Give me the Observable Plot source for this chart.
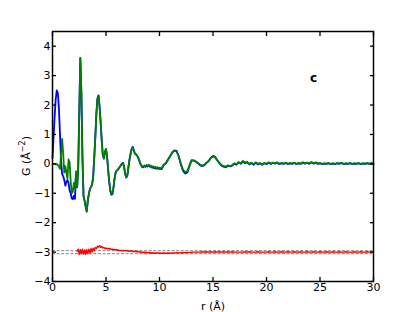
<!DOCTYPE html>
<html><head><meta charset="utf-8">
<script src="https://cdn.jsdelivr.net/npm/d3@7"></script>
<script src="https://cdn.jsdelivr.net/npm/@observablehq/plot@0.6"></script>
<style>body{margin:0;background:#fff;}</style>
</head><body><div id="chart"></div>
<script>
// r grid: fine part every 0.1 Å (from the given start to 10.0), coarse part every 0.2 Å (10.2 … 30.0)
const fineStep = 0.1, coarseStart = 10.2, coarseStep = 0.2;

// Observed G(r) (blue), r = 0.0 … 10.0
const obsFine = [
  0.2, 0.9, 1.6, 2.2, 2.5, 2.4, 1.9, 1.0, 0.1, -0.35,
  -0.42, -0.55, -0.74, -0.62, -0.55, -0.65, -0.9, -1.0, -1.18, -1.2,
  -1.08, -1.19, -0.35, -0.8, -0.2, 1.7, 3.6, 2.4, 0.2, -1.1,
  -1.25, -1.45, -1.62, -1.25, -1.02, -0.85, -0.78, -0.7, -0.45, 0.2,
  0.9, 1.7, 2.22, 2.33, 1.95, 1.4, 0.8, 0.3, 0.18, 0.4,
  0.5, 0.25, -0.2, -0.6, -0.92, -1.05, -1.04, -0.8, -0.5, -0.3,
  -0.23, -0.2, -0.15, -0.1, -0.05, 0.02, 0.03, -0.12, -0.35, -0.47,
  -0.38, -0.1, 0.15, 0.35, 0.5, 0.58, 0.47, 0.35, 0.32, 0.28,
  0.22, 0.12, 0.02, -0.06, -0.12, -0.11, -0.07, -0.1, -0.06, -0.09,
  -0.05, -0.1, -0.09, -0.13, -0.11, -0.15, -0.13, -0.17, -0.14, -0.17,
  -0.16
];
// Observed G(r) (blue), r = 10.2 … 30.0
const obsCoarse = [
  -0.18, -0.04, 0.02, 0.15, 0.27, 0.4, 0.46, 0.44, 0.25, -0.02,
  -0.24, -0.33, -0.29, -0.07, 0.12, 0.11, 0.07, 0.02, -0.05, -0.08,
  -0.04, 0.03, 0.1, 0.21, 0.27, 0.23, 0.12, 0.02, -0.06, -0.1,
  -0.11, -0.07, -0.09, -0.06, 0.0, -0.03, 0.05, 0.0, 0.08, 0.02,
  0.05, -0.02, 0.03, -0.03, 0.04, -0.02, 0.02, -0.03, 0.02, -0.01,
  0.04, 0.0, 0.03, 0.01, 0.04, -0.01, 0.02, 0.0, 0.03, -0.01,
  0.02, 0.0, 0.03, -0.01, 0.02, 0.0, 0.04, 0.01, 0.03, 0.0,
  0.05, 0.01, 0.04, 0.0, 0.02, -0.01, 0.01, 0.0, 0.02, -0.01,
  0.01, -0.01, 0.02, 0.0, 0.03, -0.01, 0.01, 0.0, 0.02, -0.01,
  0.01, 0.0, 0.02, -0.01, 0.01, 0.0, 0.02, 0.0, 0.01, 0.0
];

// Calculated G(r) (green), r = 0.0 … 10.0
const calcFine = [
  0.0, 0.0, 0.0, -0.02, 0.0, -0.04, -0.08, -0.17, 0.35, 0.85,
  0.35, -0.3, -0.08, -0.3, -0.5, 0.15, 0.05, -0.6, -1.0, -0.95,
  -0.65, -0.85, -0.25, -0.8, -0.2, 1.7, 3.6, 2.4, 0.2, -1.1,
  -1.25, -1.45, -1.62, -1.25, -1.02, -0.85, -0.78, -0.7, -0.45, 0.2,
  0.9, 1.7, 2.2, 2.3, 1.95, 1.4, 0.8, 0.3, 0.18, 0.4,
  0.5, 0.25, -0.2, -0.6, -0.9, -1.02, -1.0, -0.8, -0.5, -0.3,
  -0.23, -0.2, -0.15, -0.1, -0.05, 0.0, 0.02, -0.12, -0.35, -0.45,
  -0.38, -0.1, 0.15, 0.35, 0.5, 0.55, 0.45, 0.35, 0.32, 0.28,
  0.22, 0.12, 0.02, -0.05, -0.1, -0.09, -0.05, -0.08, -0.04, -0.07,
  -0.03, -0.08, -0.06, -0.1, -0.08, -0.12, -0.1, -0.14, -0.11, -0.14,
  -0.13
];
// Calculated G(r) (green), r = 10.2 … 30.0
const calcCoarse = [
  -0.15, -0.02, 0.03, 0.15, 0.26, 0.38, 0.44, 0.42, 0.25, 0.0,
  -0.2, -0.28, -0.25, -0.05, 0.13, 0.12, 0.08, 0.03, -0.03, -0.06,
  -0.02, 0.04, 0.1, 0.2, 0.25, 0.22, 0.12, 0.03, -0.04, -0.08,
  -0.09, -0.05, -0.08, -0.04, 0.02, -0.01, 0.06, 0.02, 0.1, 0.04,
  0.07, 0.0, 0.04, -0.01, 0.05, 0.0, 0.03, -0.02, 0.03, 0.0,
  0.05, 0.01, 0.04, 0.02, 0.05, 0.0, 0.03, 0.01, 0.04, 0.0,
  0.03, 0.01, 0.04, 0.0, 0.03, 0.01, 0.05, 0.02, 0.04, 0.01,
  0.06, 0.02, 0.05, 0.01, 0.03, 0.0, 0.02, 0.01, 0.03, 0.0,
  0.02, 0.0, 0.03, 0.01, 0.04, 0.0, 0.02, 0.01, 0.03, 0.0,
  0.02, 0.01, 0.03, 0.0, 0.02, 0.01, 0.03, 0.01, 0.02, 0.01
];

// Difference curve (red, offset by −3), r = 2.3 … 10.0
const diffStart = 2.3;
const diffFine = [
  -2.97, -2.9, -3.08, -2.92, -3.06, -2.9, -3.07,
  -2.93, -3.08, -2.92, -3.05, -2.9, -3.03, -2.88, -3.0, -2.87, -2.95,
  -2.84, -2.88, -2.8, -2.83, -2.78, -2.84, -2.81, -2.86, -2.84, -2.88,
  -2.86, -2.89, -2.87, -2.9, -2.88, -2.91, -2.9, -2.92, -2.91, -2.93,
  -2.92, -2.94, -2.93, -2.95, -2.94, -2.95, -2.94, -2.96, -2.95, -2.96,
  -2.95, -2.97, -2.96, -2.97, -2.96, -2.98, -2.97, -2.98, -2.97, -2.99,
  -2.98, -3.0, -2.99, -3.01, -3.0, -3.02, -3.0, -3.02, -3.01, -3.03,
  -3.01, -3.03, -3.02, -3.04, -3.02, -3.04, -3.03, -3.04, -3.02, -3.04,
  -3.03
];
// Difference curve, r = 10.2 … 30.0
const diffCoarse = [
  -3.04, -3.03, -3.04, -3.03, -3.04, -3.03, -3.03, -3.02, -3.03, -3.02,
  -3.02, -3.01, -3.02, -3.01, -3.01, -3.0, -3.0, -3.0, -3.0, -2.99,
  -3.0, -2.99, -3.0, -2.99, -3.0, -2.99, -3.0, -2.99, -3.0, -2.99,
  -3.0, -2.99, -3.0, -2.99, -3.0, -3.0, -3.0, -3.0, -3.0, -2.99,
  -3.0, -2.99, -3.0, -3.0, -3.0, -2.99, -3.0, -3.0, -3.0, -3.0,
  -2.99, -3.0, -3.0, -2.99, -3.0, -3.0, -2.99, -3.0, -3.0, -2.99,
  -3.0, -3.0, -2.99, -3.0, -3.0, -2.99, -3.0, -3.0, -2.99, -3.0,
  -3.0, -2.99, -3.0, -3.0, -2.99, -3.0, -3.0, -2.99, -3.0, -3.0,
  -2.99, -3.0, -3.0, -2.99, -3.0, -3.0, -2.99, -3.0, -3.0, -3.0,
  -2.99, -3.0, -3.0, -2.99, -3.0, -3.0, -2.99, -3.0, -3.0, -2.99
];

const refLines = [-2.95, -3.05];
const xTicks = [0, 5, 10, 15, 20, 25, 30];
const yTicks = [-4, -3, -2, -1, 0, 1, 2, 3, 4];
const xLabel = ["r (Å)"];
const panel = [{label: "c", r: 24.4, g: 2.92}];

function series(fine, fineStart, coarse) {
  const pts = fine.map((g, i) => ({r: +(fineStart + i * fineStep).toFixed(2), g}));
  coarse.forEach((g, i) => pts.push({r: +(coarseStart + i * coarseStep).toFixed(2), g}));
  return pts;
}
const obs = series(obsFine, 0, obsCoarse);
const calc = series(calcFine, 0, calcCoarse);
const diff = series(diffFine, diffStart, diffCoarse);

const fmt = d => d < 0 ? "\u2212" + (-d) : String(d);

const chart = Plot.plot({
  width: 415, height: 312,
  marginLeft: 52, marginRight: 42, marginTop: 31, marginBottom: 31,
  style: {fontFamily: "DejaVu Sans", fontSize: "11px", color: "black", background: "white"},
  x: {domain: [0, 30]},
  y: {domain: [-4, 4.5]},
  marks: [
    Plot.ruleY(refLines, {stroke: "#999999", strokeDasharray: "3,1.6", strokeWidth: 1.2}),
    Plot.line(obs, {x: "r", y: "g", stroke: "#0000ff", strokeWidth: 1.8}),
    Plot.line(calc, {x: "r", y: "g", stroke: "#008000", strokeWidth: 1.8}),
    Plot.line(diff, {x: "r", y: "g", stroke: "#ff0000", strokeWidth: 1.4}),
    Plot.frame({stroke: "black", strokeWidth: 1.5}),
    Plot.axisX(xTicks, {anchor: "bottom", tickSize: -4, tickPadding: 6, strokeWidth: 1.3, label: null, tickFormat: fmt}),
    Plot.axisX(xTicks, {anchor: "top", tickSize: -4, strokeWidth: 1.3, label: null, tickFormat: () => ""}),
    Plot.axisY(yTicks, {anchor: "left", tickSize: -4, tickPadding: 6, strokeWidth: 1.3, label: null, tickFormat: fmt}),
    Plot.axisY(yTicks, {anchor: "right", tickSize: -4, strokeWidth: 1.3, label: null, tickFormat: () => ""}),
    Plot.text(xLabel, {frameAnchor: "bottom", dy: 21, lineAnchor: "top", text: d => d, fontSize: 11}),
    Plot.text(panel, {x: "r", y: "g", text: "label", fontWeight: "bold", fontSize: 12})
  ]
});
document.getElementById("chart").appendChild(chart);

// y-axis label with a superscript exponent
const svg = d3.select(chart);
const yl = svg.append("text")
  .attr("transform", "translate(30,156) rotate(-90)")
  .attr("text-anchor", "middle")
  .attr("font-family", "DejaVu Sans")
  .attr("font-size", 11)
  .attr("fill", "black");
yl.append("tspan").text("G (Å");
yl.append("tspan").attr("font-size", 8).attr("dy", -5).text("\u22122");
yl.append("tspan").attr("dy", 5).text(")");
</script></body></html>
